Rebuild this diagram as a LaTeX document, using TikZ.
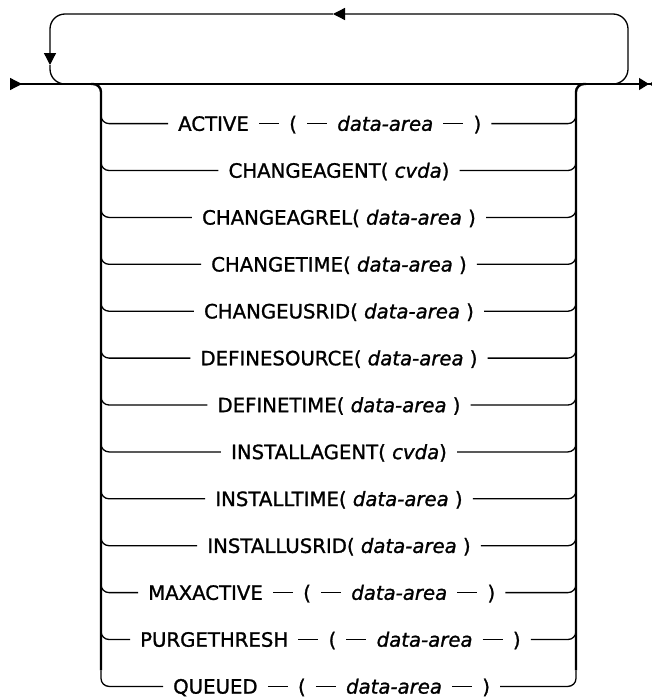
\documentclass[tikz,border=0pt]{standalone}
\usepackage{fontspec}
\setmainfont{DejaVu Sans}
\newfontfamily\railfont{DejaVu Sans}[FakeBold=1.2, ItalicFeatures={FakeBold=1.2}]
\usetikzlibrary{arrows.meta,positioning,calc}

\begin{document}
\begin{tikzpicture}[x=1pt, y=-1pt,
    rail/.style={line width=1.3pt},
    pole/.style={line width=2.4pt},
    turn/.style={rail, rounded corners=8pt},
    word/.style={inner xsep=10pt, inner ysep=0pt, text height=14.4pt, text depth=0pt,
                 font=\railfont\fontsize{19.7}{22}\selectfont},
    node distance=20pt]
    \useasboundingbox (0,0) rectangle (652,699);

    % Hauptlinie und Schleife
    \coordinate (start) at (10,84);
    \coordinate (stop) at (659,84);
    \coordinate (railL) at (101,84);
    \coordinate (railR) at (576,84);
    \coordinate (loopIn) at (610,84);
    \coordinate (loopTR) at (628,14);
    \coordinate (loopMid) at (333,14);
    \coordinate (loopDown) at (50,65);
    \coordinate (loopOut) at (70,84);

    \draw[rail, {Triangle[reversed,length=12pt,width=12pt]}-{Triangle[length=10pt,width=12pt] Triangle[reversed,length=10pt,width=12pt]}]
        (start) -- (stop);
    \draw[rail, rounded corners=15pt, -{Triangle[length=12pt,width=12pt]}] (loopIn) -| (loopTR) -- (loopMid);
    \draw[rail, rounded corners=15pt, -{Triangle[length=12pt,width=12pt]}] (loopMid) -| (loopDown);
    \draw[rail, rounded corners=15pt] (loopDown) |- (loopOut);

    % Optionen
    \node[word, anchor=west] (act) at (168,123.6) {ACTIVE};
    \node[word, right=of act] (actOpen) {(};
    \node[word, right=of actOpen] (actArea) {\textit{data-area}};
    \node[word, right=of actArea] (actClose) {)};
    \node[word] (cagent) at (339,170.5) {CHANGEAGENT( \textit{cvda})};
    \node[word] (cagrel) at (339,217.4) {CHANGEAGREL( \textit{data-area} )};
    \node[word] (ctime) at (339,264.3) {CHANGETIME( \textit{data-area} )};
    \node[word] (cusrid) at (339,311.2) {CHANGEUSRID( \textit{data-area} )};
    \node[word] (dsource) at (339,358.1) {DEFINESOURCE( \textit{data-area} )};
    \node[word] (dtime) at (339,405.0) {DEFINETIME( \textit{data-area} )};
    \node[word] (iagent) at (339,451.9) {INSTALLAGENT( \textit{cvda})};
    \node[word] (itime) at (339,498.8) {INSTALLTIME( \textit{data-area} )};
    \node[word] (iusrid) at (339,545.7) {INSTALLUSRID( \textit{data-area} )};
    \node[word, anchor=west] (maxact) at (138,592.6) {MAXACTIVE};
    \node[word, right=of maxact] (maxOpen) {(};
    \node[word, right=of maxOpen] (maxArea) {\textit{data-area}};
    \node[word, right=of maxArea] (maxClose) {)};
    \node[word, anchor=west] (purge) at (130,639.5) {PURGETHRESH};
    \node[word, right=of purge] (purgeOpen) {(};
    \node[word, right=of purgeOpen] (purgeArea) {\textit{data-area}};
    \node[word, right=of purgeArea] (purgeClose) {)};
    \node[word, anchor=west] (queued) at (163,686.4) {QUEUED};
    \node[word, right=of queued] (queOpen) {(};
    \node[word, right=of queOpen] (queArea) {\textit{data-area}};
    \node[word, right=of queArea] (queClose) {)};

    % Verbindungen
    \draw[rail] (act) -- (actOpen) -- (actArea) -- (actClose);
    \draw[rail] (maxact) -- (maxOpen) -- (maxArea) -- (maxClose);
    \draw[rail] (purge) -- (purgeOpen) -- (purgeArea) -- (purgeClose);
    \draw[rail] (queued) -- (queOpen) -- (queArea) -- (queClose);
    \foreach \a/\b in {act/actClose, cagent/cagent, cagrel/cagrel, ctime/ctime, cusrid/cusrid,
                       dsource/dsource, dtime/dtime, iagent/iagent, itime/itime, iusrid/iusrid,
                       maxact/maxClose, purge/purgeClose, queued/queClose} {
        \draw[turn] ($(\a.west -| railL)+(0,-16)$) |- (\a.west);
        \draw[turn] (\b.east) -| ($(\b.east -| railR)+(0,-16)$);
    }
    \draw[pole, rounded corners=8pt] ($(railL)+(-10,0)$) -| ($(queued.west -| railL)+(0,-16)$);
    \draw[pole, rounded corners=8pt] ($(railR)+(10,0)$) -| ($(queClose.east -| railR)+(0,-16)$);

\end{tikzpicture}
\end{document}
